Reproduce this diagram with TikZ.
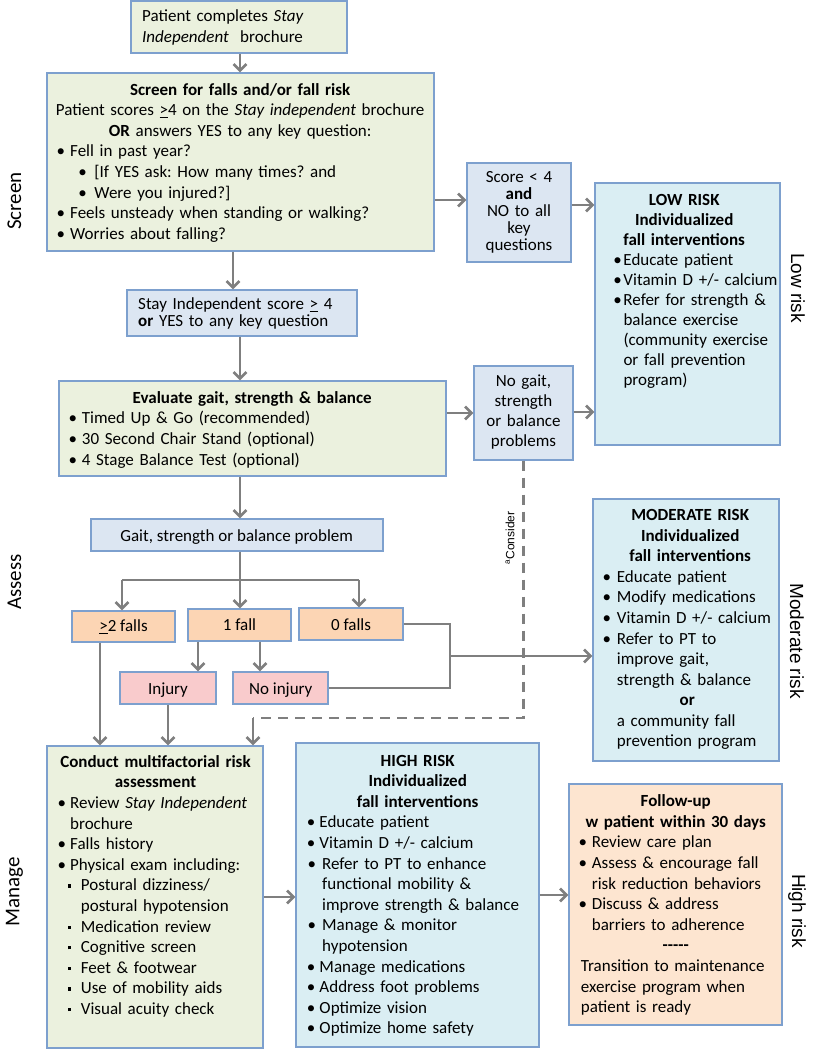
\documentclass[tikz,border=0pt]{standalone}
\usepackage{fontspec}
\setmainfont{Carlito}
\newfontfamily\arialf{Liberation Sans}
\usetikzlibrary{arrows.meta,fit,calc}
\definecolor{bord}{HTML}{7DA0CE}
\definecolor{grnf}{HTML}{EBF1DE}
\definecolor{bluf}{HTML}{DCE6F2}
\definecolor{cyaf}{HTML}{DAEEF3}
\definecolor{orgf}{HTML}{FCD5B4}
\definecolor{pnkf}{HTML}{F9CBCC}
\definecolor{pchf}{HTML}{FDE5D0}
\definecolor{arrc}{HTML}{7F7F7F}
\frenchspacing
\newcommand\ctr[2]{\noindent\hspace*{#1pt}\makebox[0pt][c]{#2}\par}
\newcommand\bx[4]{\hangindent=#2pt\hangafter=1\noindent\hspace*{#1pt}\makebox[0pt][c]{#3}\hspace*{\dimexpr#2pt-#1pt\relax}#4\par}
\newcommand\bul{•}
\newcommand\sq{\rule[0.2em]{3.2pt}{3.2pt}}
\newcommand\nl{\newline}
\tikzset{
  box/.style={draw=bord, line width=1.2pt, inner sep=0pt},
  gbox/.style={box, fill=grnf},
  bbox/.style={box, fill=bluf},
  cbox/.style={box, fill=cyaf},
  obox/.style={box, fill=orgf},
  pbox/.style={box, fill=pnkf},
  fbox/.style={box, fill=pchf},
  txt/.style={inner sep=0pt, font=\fontsize{17}{20.6}\selectfont\frenchspacing, align=left},
  ctxt/.style={inner sep=0pt, font=\fontsize{17}{20.6}\selectfont, align=center},
  arr/.style={draw=arrc, line width=2.6pt, -{Straight Barb[length=6.5pt,width=13pt]}},
  ln/.style={draw=arrc, line width=2.6pt},
  dsh/.style={draw=arrc, line width=2.6pt, dash pattern=on 10pt off 7pt},
  lside/.style={inner sep=0pt, font=\fontsize{21}{24}\selectfont, rotate=90},
  rside/.style={inner sep=0pt, font=\arialf\fontsize{19}{22}\selectfont, rotate=-90},
}
\begin{document}
\begin{tikzpicture}[x=1pt,y=-1pt]
\useasboundingbox (0,0) rectangle (813,1050);
% boxes
\node[gbox, fit={(131,1) (347,53)}] (b1) {};
\node[gbox, fit={(47,73) (434,251)}] (b2) {};
\node[bbox, fit={(467,163) (571,262)}] (score) {};
\node[cbox, fit={(595,183) (780,445)}] (low) {};
\node[bbox, fit={(127,290) (357,336)}] (stay) {};
\node[gbox, fit={(59,381) (446,476)}] (eval) {};
\node[bbox, fit={(474,366) (573,460)}] (nogait) {};
\node[bbox, fit={(91,519) (383,551)}] (gait) {};
\node[obox, fit={(72,611) (175,642)}] (f2) {};
\node[obox, fit={(188,609) (291,641)}] (f1) {};
\node[obox, fit={(299,608) (403,640)}] (f0) {};
\node[pbox, fit={(120,672) (216,704)}] (inj) {};
\node[pbox, fit={(233,672) (328,704)}] (noinj) {};
\node[cbox, fit={(593,499) (779,761)}] (mod) {};
\node[gbox, fit={(47,746) (263,1048)}] (cond) {};
\node[cbox, fit={(296,743) (539,1047)}] (high) {};
\node[fbox, fit={(569,784) (782,1025)}] (fol) {};
% texts
\node[txt, anchor=base west, text width=200pt] (t1) at (142,21.7)
 {Patient completes \textit{Stay}\\\textit{Independent}\ \ brochure};
\node[txt, anchor=base west, text width=375pt] (t2) at (60.7,95) {%
\ctr{179.3}{\textbf{Screen for falls and/or fall risk}}%
\ctr{179.3}{Patient scores \underline{>}4 on the \textit{Stay independent} brochure}%
\ctr{179.3}{\textbf{OR} answers YES to any key question:}%
\bx{0}{9.3}{\bul}{Fell in past year?}%
\bx{21.6}{33.6}{\bul}{[If YES ask: How many times? and}%
\bx{21.6}{33.6}{\bul}{Were you injured?]}%
\bx{0}{9.3}{\bul}{Feels unsteady when standing or walking?}%
\bx{0}{9.3}{\bul}{Worries about falling?}};
\node[ctxt, anchor=base, text width=100pt, font=\fontsize{17}{17}\selectfont] (tscore) at (519,182.7)
 {Score < 4\\\textbf{and}\\NO to all\\key\\questions};
\node[txt, anchor=base west, text width=230pt, font=\fontsize{17}{16.7}\selectfont] (tstay) at (138,309.3)
 {Stay Independent score \underline{>} 4\\\textbf{or} YES to any key question};
\node[txt, anchor=base west, text width=370pt] (teval) at (72.7,403.3) {%
\ctr{179.3}{\textbf{Evaluate gait, strength \& balance}}%
\bx{0}{9}{\bul}{Timed Up \& Go (recommended)}%
\bx{0}{9}{\bul}{30 Second Chair Stand (optional)}%
\bx{0}{9}{\bul}{4 Stage Balance Test (optional)}};
\node[ctxt, anchor=base] (tgait) at (236.7,541.7) {Gait, strength or balance problem};
\node[ctxt, anchor=base, text width=98pt, font=\fontsize{17}{20}\selectfont] (tnog) at (523.5,386.7)
 {No gait,\\strength\\or balance\\problems};
\node[txt, anchor=base west, text width=165pt, font=\fontsize{17}{20}\selectfont] (tlow) at (617.3,205.7) {%
\ctr{66.7}{\textbf{LOW RISK}}%
\ctr{66.7}{\textbf{Individualized}}%
\ctr{66.7}{\textbf{fall interventions}}%
\bx{0}{6}{\bul}{Educate patient}%
\bx{0}{6}{\bul}{Vitamin D +/- calcium}%
\bx{0}{6}{\bul}{Refer for strength \&\nl balance exercise\nl (community exercise\nl or fall prevention\nl program)}};
\node[ctxt, anchor=base] (tf2) at (123.5,631.7) {\underline{>}2 falls};
\node[ctxt, anchor=base] (tf1) at (239.5,630.7) {1 fall};
\node[ctxt, anchor=base] (tf0) at (351,630) {0 falls};
\node[ctxt, anchor=base] (tinj) at (168,694) {Injury};
\node[ctxt, anchor=base] (tnoinj) at (280.8,694) {No injury};
\node[inner sep=0pt, font=\arialf\fontsize{12}{14}\selectfont, rotate=90] (tcons) at (510,538) {\textsuperscript{a}Consider};
\node[txt, anchor=base west, text width=175pt, font=\fontsize{17}{20.55}\selectfont] (tmod) at (606.7,520.7) {%
\ctr{83.3}{\textbf{MODERATE RISK}}%
\ctr{83.3}{\textbf{Individualized}}%
\ctr{83.3}{\textbf{fall interventions}}%
\bx{0}{10}{\bul}{Educate patient}%
\bx{0}{10}{\bul}{Modify medications}%
\bx{0}{10}{\bul}{Vitamin D +/- calcium}%
\bx{0}{10}{\bul}{Refer to PT to\nl improve gait,\nl strength \& balance}%
\ctr{80.3}{\textbf{or}}%
\bx{10}{10}{}{a community fall\nl prevention program}};
\node[txt, anchor=base west, text width=230pt] (tcond) at (61.7,767.3) {%
\ctr{93.6}{\textbf{Conduct multifactorial risk}}%
\ctr{93.6}{\textbf{assessment}}%
\bx{0}{8.3}{\bul}{Review \textit{Stay Independent}\nl brochure}%
\bx{0}{8.3}{\bul}{Falls history}%
\bx{0}{8.3}{\bul}{Physical exam including:}%
\bx{7.3}{19}{\sq}{Postural dizziness/\nl postural hypotension}%
\bx{7.3}{19}{\sq}{Medication review}%
\bx{7.3}{19}{\sq}{Cognitive screen}%
\bx{7.3}{19}{\sq}{Feet \& footwear}%
\bx{7.3}{19}{\sq}{Use of mobility aids}%
\bx{7.3}{19}{\sq}{Visual acuity check}};
\node[txt, anchor=base west, text width=230pt] (thigh) at (311,766) {%
\ctr{106.5}{\textbf{HIGH RISK}}%
\ctr{106.5}{\textbf{Individualized}}%
\ctr{106.5}{\textbf{fall interventions}}%
\bx{0}{8.3}{\bul}{Educate patient}%
\bx{0}{8.3}{\bul}{Vitamin D +/- calcium}%
\bx{0.7}{11}{\bul}{Refer to PT to enhance\nl functional mobility \&\nl improve strength \& balance}%
\bx{0.7}{11}{\bul}{Manage \& monitor\nl hypotension}%
\bx{0}{8.3}{\bul}{Manage medications}%
\bx{0}{8.3}{\bul}{Address foot problems}%
\bx{0}{8.3}{\bul}{Optimize vision}%
\bx{0}{8.3}{\bul}{Optimize home safety}};
\node[txt, anchor=base west, text width=200pt] (tfol) at (580.7,806.7) {%
\ctr{94.8}{\textbf{Follow-up}}%
\ctr{94.8}{\textbf{w patient within 30 days}}%
\bx{2}{11}{\bul}{Review care plan}%
\bx{2}{11}{\bul}{Assess \& encourage fall\nl risk reduction behaviors}%
\bx{2}{11}{\bul}{Discuss \& address\nl barriers to adherence}%
\ctr{94.8}{\textbf{-{}-{}-{}-{}-}}%
\bx{0}{0}{}{Transition to maintenance\nl exercise program when\nl patient is ready}};
% side labels
\node[lside] (lscr) at (14.5,201) {Screen};
\node[lside] (lass) at (14.5,582) {Assess};
\node[lside] (lman) at (14.5,892) {Manage};
\node[rside] (rlow) at (798,288) {Low risk};
\node[rside] (rmod) at (797,641) {Moderate risk};
\node[rside] (rhigh) at (797,911) {High risk};
% connectors
\draw[arr] (b1.south -| 240,0) -- (b2.north -| 240,0);
\draw[arr] (b2.east |- 0,200) -- (score.west |- 0,200);
\draw[arr] (score.east |- 0,205) -- (low.west |- 0,205);
\draw[arr] (b2.south -| 233,0) -- (stay.north -| 233,0);
\draw[arr] (stay.south -| 240,0) -- (eval.north -| 240,0);
\draw[arr] (eval.east |- 0,413) -- (nogait.west |- 0,413);
\draw[arr] (nogait.east |- 0,412) -- (low.west |- 0,412);
\draw[arr] (eval.south -| 240,0) -- (gait.north -| 240,0);
\coordinate (j) at (240,580);
\coordinate (jl) at (122,580);
\coordinate (jr) at (359,580);
\draw[ln] (gait.south -| j) -- (j);
\draw[ln] (jl) -- (jr);
\draw[arr] (jl) -- (f2.north -| jl);
\draw[arr] (j) -- (f1.north -| j);
\draw[arr] (jr) -- (f0.north -| jr);
\draw[arr] (f1.south -| 198,0) -- (inj.north -| 198,0);
\draw[arr] (f1.south -| 260,0) -- (noinj.north -| 260,0);
\coordinate (k1) at (450,624);
\coordinate (k2) at (450,688);
\coordinate (k3) at (450,656);
\draw[ln] (f0.east |- k1) -- (k1) -- (k2) -- (noinj.east |- k2);
\draw[arr] (k3) -- (mod.west |- k3);
\draw[arr] (f2.south -| 100,0) -- (cond.north -| 100,0);
\draw[arr] (inj.south -| 168,0) -- (cond.north -| 168,0);
\coordinate (cd) at (253,718);
\draw[dsh] (nogait.south) |- (cd);
\draw[arr] (cd) -- (cond.north -| cd);
\draw[arr] (cond.east |- 0,897) -- (high.west |- 0,897);
\draw[arr] (high.east |- 0,895) -- (fol.west |- 0,895);
\end{tikzpicture}
\end{document}
